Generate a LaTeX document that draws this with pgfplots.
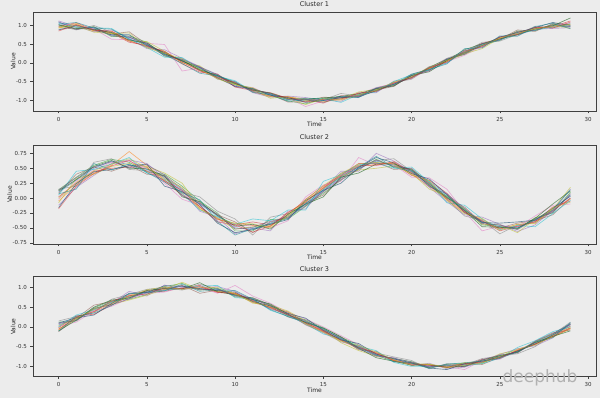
\documentclass[border=0pt]{standalone}
\usepackage{pgfplots}
\usepackage{pgfplotstable}
\pgfplotsset{compat=1.18}
\usepackage{fontspec}
\setmainfont{DejaVu Sans}
\definecolor{bg}{RGB}{236,236,236}
\definecolor{c1}{HTML}{1F77B4}
\definecolor{c2}{HTML}{FF7F0E}
\definecolor{c3}{HTML}{2CA02C}
\definecolor{c4}{HTML}{D62728}
\definecolor{c5}{HTML}{9467BD}
\definecolor{c6}{HTML}{8C564B}
\definecolor{c7}{HTML}{E377C2}
\definecolor{c8}{HTML}{7F7F7F}
\definecolor{c9}{HTML}{BCBD22}
\definecolor{c10}{HTML}{17BECF}

\pgfplotstableread{
t a b c d e f g h i j k l m n o p
0 1.08 0.93 1.02 0.97 1.12 0.90 1.04 0.99 0.95 1.06 0.88 1.01 0.85 1.10 0.94 1.03
1 0.95 1.03 0.90 1.07 0.98 0.93 1.01 0.88 1.05 0.96 1.00 0.92 1.02 0.89 0.99 1.08
2 0.93 0.85 0.97 0.89 0.83 0.95 0.91 1.00 0.86 0.94 0.88 0.90 0.87 0.96 0.82 0.93
3 0.74 0.84 0.70 0.80 0.88 0.77 0.63 0.82 0.79 0.92 0.75 0.81 0.85 0.72 0.78 0.90
4 0.68 0.60 0.72 0.55 0.66 0.83 0.62 0.70 0.58 0.64 0.75 0.61 0.58 0.69 0.80 0.63
5 0.50 0.42 0.55 0.47 0.38 0.49 0.52 0.44 0.57 0.41 0.46 0.53 0.44 0.52 0.40 0.49
6 0.22 0.30 0.18 0.27 0.35 0.25 0.49 0.21 0.31 0.15 0.28 0.24 0.31 0.19 0.26 0.22
7 0.10 0.02 0.07 -0.03 0.12 0.05 -0.22 0.08 0.00 0.14 0.04 0.06 0.01 0.09 0.11 -0.02
8 -0.12 -0.20 -0.15 -0.25 -0.10 -0.18 -0.14 -0.22 -0.08 -0.17 -0.13 -0.19 -0.21 -0.11 -0.17 -0.28
9 -0.33 -0.41 -0.37 -0.30 -0.44 -0.35 -0.39 -0.32 -0.42 -0.36 -0.40 -0.34 -0.38 -0.31 -0.43 -0.35
10 -0.60 -0.52 -0.57 -0.65 -0.50 -0.56 -0.62 -0.54 -0.58 -0.48 -0.63 -0.55 -0.53 -0.64 -0.59 -0.51
11 -0.70 -0.78 -0.68 -0.74 -0.80 -0.72 -0.66 -0.75 -0.71 -0.77 -0.69 -0.73 -0.76 -0.71 -0.67 -0.79
12 -0.83 -0.90 -0.86 -0.80 -0.92 -0.85 -0.88 -0.82 -0.95 -0.84 -0.87 -0.81 -0.89 -0.83 -0.91 -0.86
13 -0.98 -0.92 -1.02 -0.95 -0.89 -1.05 -0.94 -0.97 -0.90 -1.00 -0.93 -0.96 -0.91 -0.99 -0.95 -1.03
14 -1.02 -0.96 -1.10 -0.99 -0.93 -1.04 -1.17 -0.98 -1.01 -0.95 -1.06 -0.97 -1.05 -0.97 -1.12 -0.99
15 -0.97 -1.03 -0.95 -1.08 -1.00 -0.92 -1.02 -0.99 -1.05 -0.96 -1.01 -0.94 -0.98 -1.06 -0.96 -1.01
16 -0.91 -0.99 -0.95 -0.88 -1.03 -0.94 -0.97 -0.82 -0.96 -1.06 -0.93 -0.90 -0.97 -0.92 -1.00 -0.89
17 -0.88 -0.82 -0.86 -0.91 -0.80 -0.87 -0.84 -0.89 -0.78 -0.85 -0.92 -0.83 -0.81 -0.90 -0.86 -0.93
18 -0.70 -0.76 -0.72 -0.68 -0.80 -0.73 -0.66 -0.75 -0.71 -0.78 -0.74 -0.69 -0.77 -0.69 -0.74 -0.67
19 -0.58 -0.52 -0.60 -0.55 -0.49 -0.63 -0.56 -0.53 -0.59 -0.50 -0.57 -0.62 -0.54 -0.61 -0.51 -0.58
20 -0.35 -0.40 -0.33 -0.38 -0.42 -0.31 -0.37 -0.44 -0.36 -0.32 -0.39 -0.34 -0.41 -0.34 -0.38 -0.30
21 -0.18 -0.13 -0.20 -0.15 -0.10 -0.17 -0.22 -0.14 -0.16 -0.19 -0.12 -0.24 -0.14 -0.21 -0.11 -0.18
22 0.08 0.02 0.10 0.05 -0.01 0.07 0.03 0.12 0.04 0.00 0.09 0.06 0.02 0.11 0.07 -0.03
23 0.25 0.30 0.22 0.28 0.33 0.26 0.20 0.29 0.24 0.31 0.27 0.35 0.32 0.23 0.27 0.38
24 0.50 0.44 0.48 0.52 0.41 0.47 0.45 0.55 0.38 0.49 0.46 0.51 0.43 0.51 0.47 0.40
25 0.62 0.68 0.60 0.65 0.70 0.63 0.67 0.58 0.66 0.61 0.69 0.64 0.69 0.61 0.66 0.72
26 0.82 0.77 0.85 0.79 0.74 0.88 0.80 0.76 0.83 0.78 0.81 0.75 0.76 0.84 0.79 0.71
27 0.88 0.93 0.86 0.95 0.90 0.84 0.92 0.98 0.89 0.87 0.94 0.91 0.95 0.87 0.91 0.97
28 1.00 0.95 1.03 0.97 0.92 1.05 0.98 0.94 1.01 0.96 1.08 0.99 0.93 1.02 0.98 1.06
29 0.96 1.04 0.98 1.12 0.94 1.02 1.07 0.99 0.92 1.05 1.00 1.20 1.09 0.97 1.03 0.91
}\clusterA

\pgfplotstableread{
t a b c d e f g h i j k l m n o p
0 0.10 -0.05 0.14 0.02 -0.12 0.08 -0.02 0.15 -0.08 0.05 -0.16 0.12 -0.18 0.13 0.00 0.07
1 0.30 0.22 0.35 0.25 0.18 0.40 0.28 0.20 0.33 0.45 0.24 0.31 0.20 0.34 0.26 0.15
2 0.50 0.42 0.55 0.45 0.38 0.52 0.47 0.60 0.40 0.48 0.44 0.53 0.41 0.52 0.46 0.58
3 0.62 0.55 0.65 0.50 0.58 0.45 0.60 0.66 0.53 0.57 0.48 0.63 0.54 0.61 0.57 0.47
4 0.56 0.78 0.60 0.52 0.64 0.55 0.62 0.48 0.58 0.68 0.54 0.50 0.63 0.51 0.66 0.57
5 0.48 0.55 0.44 0.52 0.58 0.40 0.50 0.46 0.53 0.42 0.57 0.49 0.45 0.56 0.51 0.43
6 0.36 0.30 0.40 0.28 0.33 0.38 0.25 0.35 0.42 0.31 0.20 0.37 0.29 0.39 0.32 0.27
7 0.14 0.08 0.20 0.05 0.12 0.16 -0.02 0.10 0.25 0.07 0.11 0.02 0.13 0.04 0.18 0.09
8 -0.10 -0.18 -0.05 -0.14 -0.22 -0.08 -0.12 0.02 -0.16 -0.20 -0.11 -0.06 -0.15 -0.09 -0.19 -0.03
9 -0.30 -0.36 -0.25 -0.40 -0.32 -0.28 -0.38 -0.22 -0.34 -0.31 -0.42 -0.29 -0.35 -0.27 -0.33 -0.39
10 -0.50 -0.42 -0.55 -0.45 -0.60 -0.40 -0.48 -0.35 -0.52 -0.44 -0.58 -0.47 -0.45 -0.52 -0.43 -0.62
11 -0.52 -0.46 -0.55 -0.40 -0.50 -0.58 -0.45 -0.62 -0.48 -0.35 -0.53 -0.44 -0.57 -0.49 -0.43 -0.51
12 -0.42 -0.48 -0.36 -0.45 -0.55 -0.40 -0.50 -0.32 -0.46 -0.38 -0.44 -0.52 -0.47 -0.39 -0.50 -0.43
13 -0.30 -0.25 -0.35 -0.28 -0.22 -0.33 -0.38 -0.26 -0.31 -0.20 -0.36 -0.27 -0.24 -0.32 -0.29 -0.34
14 -0.10 -0.05 -0.14 -0.02 -0.18 -0.08 0.02 -0.12 -0.06 -0.20 -0.04 -0.10 -0.07 -0.13 -0.03 -0.09
15 0.12 0.18 0.08 0.20 0.15 0.05 0.22 0.10 0.16 0.28 0.13 0.02 0.17 0.11 0.21 0.14
16 0.34 0.40 0.30 0.38 0.45 0.33 0.28 0.42 0.36 0.39 0.25 0.35 0.37 0.31 0.41 0.36
17 0.50 0.55 0.48 0.58 0.45 0.53 0.68 0.52 0.47 0.56 0.51 0.42 0.54 0.49 0.57 0.52
18 0.62 0.56 0.65 0.58 0.75 0.60 0.55 0.63 0.50 0.59 0.68 0.57 0.55 0.64 0.60 0.70
19 0.55 0.60 0.52 0.58 0.62 0.48 0.56 0.66 0.54 0.50 0.59 0.57 0.61 0.53 0.57 0.51
20 0.46 0.40 0.48 0.38 0.44 0.50 0.35 0.45 0.42 0.52 0.41 0.47 0.43 0.49 0.39 0.45
21 0.28 0.20 0.26 0.30 0.18 0.24 0.34 0.22 0.15 0.27 0.32 0.21 0.25 0.19 0.29 0.23
22 0.05 -0.03 0.02 0.08 -0.06 0.00 0.15 -0.02 0.04 -0.08 0.06 0.01 -0.01 0.07 -0.04 0.03
23 -0.20 -0.25 -0.18 -0.22 -0.28 -0.15 -0.23 -0.30 -0.19 -0.12 -0.24 -0.21 -0.23 -0.17 -0.26 -0.20
24 -0.40 -0.36 -0.45 -0.38 -0.32 -0.42 -0.55 -0.37 -0.44 -0.35 -0.41 -0.48 -0.39 -0.43 -0.34 -0.40
25 -0.46 -0.52 -0.48 -0.55 -0.44 -0.50 -0.47 -0.60 -0.45 -0.53 -0.42 -0.49 -0.51 -0.45 -0.54 -0.48
26 -0.50 -0.44 -0.52 -0.47 -0.56 -0.42 -0.49 -0.45 -0.58 -0.46 -0.40 -0.51 -0.48 -0.53 -0.44 -0.50
27 -0.36 -0.42 -0.33 -0.40 -0.45 -0.38 -0.30 -0.41 -0.35 -0.48 -0.37 -0.34 -0.39 -0.35 -0.43 -0.37
28 -0.22 -0.18 -0.25 -0.15 -0.20 -0.28 -0.12 -0.23 -0.19 -0.26 -0.17 -0.10 -0.21 -0.24 -0.16 -0.20
29 0.05 -0.02 0.10 -0.05 0.15 0.00 -0.10 0.08 0.18 -0.04 0.03 0.12 0.00 0.06 -0.07 0.14
}\clusterB

\pgfplotstableread{
t a b c d e f g h i j k l m n o p
0 0.05 -0.08 0.12 -0.02 0.08 -0.12 0.02 0.15 -0.05 0.00 0.10 -0.10 -0.06 0.09 0.03 -0.11
1 0.20 0.25 0.15 0.28 0.18 0.22 0.12 0.26 0.19 0.30 0.23 0.17 0.24 0.16 0.21 0.27
2 0.45 0.38 0.48 0.32 0.42 0.55 0.40 0.36 0.46 0.43 0.30 0.50 0.39 0.47 0.44 0.35
3 0.62 0.58 0.66 0.55 0.60 0.64 0.52 0.70 0.57 0.63 0.59 0.68 0.65 0.56 0.61 0.54
4 0.74 0.80 0.70 0.78 0.90 0.75 0.72 0.82 0.68 0.77 0.85 0.73 0.79 0.71 0.76 0.84
5 0.86 0.91 0.82 0.88 0.78 0.93 0.85 0.95 0.80 0.89 0.87 0.92 0.83 0.90 0.94 0.86
6 0.98 0.94 1.02 0.90 1.06 0.96 0.88 1.00 0.95 0.92 1.04 0.97 0.99 0.93 1.01 0.91
7 1.02 0.97 1.10 0.99 0.95 1.05 1.00 0.93 1.13 0.98 1.03 0.96 0.97 1.04 0.95 1.08
8 0.96 1.01 0.93 1.05 0.98 0.85 1.00 1.08 0.95 1.03 0.97 1.12 1.02 0.94 0.99 0.90
9 0.95 0.90 0.98 0.88 1.02 0.93 0.85 0.97 0.91 1.05 0.92 0.89 0.87 0.96 1.00 0.94
10 0.80 0.86 0.76 0.84 0.90 0.82 1.05 0.78 0.85 0.74 0.88 0.81 0.85 0.79 0.83 0.92
11 0.70 0.65 0.74 0.62 0.68 0.72 0.78 0.66 0.60 0.71 0.64 0.69 0.67 0.73 0.63 0.70
12 0.54 0.48 0.56 0.50 0.45 0.52 0.60 0.47 0.55 0.42 0.53 0.58 0.49 0.55 0.51 0.44
13 0.35 0.30 0.28 0.38 0.33 0.25 0.36 0.31 0.40 0.27 0.34 0.32 0.32 0.29 0.37 0.26
14 0.14 0.08 0.18 0.10 0.05 0.12 0.20 0.06 0.15 0.09 0.22 0.11 0.10 0.16 0.07 0.13
15 -0.05 -0.12 -0.02 -0.10 -0.15 -0.08 0.00 -0.13 -0.06 -0.18 -0.09 -0.03 -0.11 -0.07 -0.14 -0.04
16 -0.30 -0.35 -0.26 -0.32 -0.38 -0.28 -0.22 -0.34 -0.40 -0.29 -0.33 -0.25 -0.33 -0.27 -0.36 -0.31
17 -0.50 -0.55 -0.46 -0.52 -0.48 -0.58 -0.45 -0.53 -0.60 -0.49 -0.42 -0.54 -0.51 -0.56 -0.47 -0.53
18 -0.70 -0.65 -0.72 -0.68 -0.75 -0.62 -0.70 -0.66 -0.74 -0.60 -0.69 -0.78 -0.67 -0.73 -0.64 -0.71
19 -0.82 -0.86 -0.80 -0.84 -0.78 -0.88 -0.83 -0.76 -0.85 -0.90 -0.81 -0.87 -0.85 -0.79 -0.83 -0.88
20 -0.92 -0.96 -0.88 -0.94 -0.98 -0.90 -0.95 -0.85 -0.93 -1.00 -0.91 -0.97 -0.94 -0.89 -0.97 -0.92
21 -1.00 -0.95 -1.03 -0.97 -0.92 -1.02 -0.98 -1.06 -0.94 -0.99 -1.04 -0.96 -0.97 -1.01 -0.95 -1.05
22 -0.98 -1.03 -0.95 -1.01 -1.06 -0.97 -1.00 -0.93 -1.04 -0.99 -1.08 -1.02 -1.02 -0.96 -1.00 -0.94
23 -0.95 -0.99 -0.92 -0.97 -1.02 -0.94 -1.08 -0.96 -0.90 -0.98 -0.93 -1.00 -0.93 -1.01 -0.97 -0.91
24 -0.90 -0.86 -0.92 -0.82 -0.88 -0.95 -0.85 -0.80 -0.89 -0.93 -0.87 -0.84 -0.89 -0.83 -0.91 -0.86
25 -0.75 -0.80 -0.72 -0.78 -0.70 -0.77 -0.82 -0.74 -0.68 -0.79 -0.76 -0.73 -0.78 -0.71 -0.75 -0.80
26 -0.62 -0.58 -0.65 -0.60 -0.55 -0.63 -0.57 -0.68 -0.59 -0.52 -0.61 -0.64 -0.60 -0.66 -0.56 -0.62
27 -0.40 -0.45 -0.38 -0.43 -0.48 -0.36 -0.42 -0.50 -0.41 -0.35 -0.44 -0.39 -0.43 -0.37 -0.46 -0.40
28 -0.20 -0.25 -0.18 -0.22 -0.28 -0.15 -0.23 -0.19 -0.26 -0.12 -0.21 -0.24 -0.24 -0.17 -0.22 -0.27
29 0.02 -0.05 0.08 -0.02 0.10 -0.08 0.04 0.12 -0.04 0.00 0.06 -0.10 -0.03 0.07 0.01 0.11
}\clusterC

\pgfplotsset{
  clusterstyle/.style={
    scale only axis, width=563pt, height=99pt, anchor=south west,
    axis background/.style={fill=bg},
    axis line style={black!75, line width=0.6pt},
    xmin=-1.45, xmax=30.45, xtick={0,5,...,30},
    tick align=outside, major tick length=2.5pt,
    tick style={black!75, line width=0.5pt},
    xtick pos=bottom, ytick pos=left,
    every tick label/.append style={font=\fontsize{5.5}{6}\selectfont, text=black!80},
    /pgf/number format/assume math mode=true,
    label style={font=\fontsize{6}{7}\selectfont, text=black!85},
    title style={font=\fontsize{6.5}{7.5}\selectfont, text=black!85, yshift=-4pt},
    xlabel={Time}, ylabel={Value},
    xlabel style={yshift=6pt},
    ylabel style={yshift=-6pt},
    y tick label style={/pgf/number format/.cd, fixed, fixed zerofill, precision=1},
    cycle list={
      {c1,opacity=0.55},{c2,opacity=0.55},{c3,opacity=0.55},{c4,opacity=0.55},
      {c5,opacity=0.55},{c6,opacity=0.55},{c7,opacity=0.55},{c8,opacity=0.55},
      {c9,opacity=0.55},{c10,opacity=0.55},{c1!60!black,opacity=0.6},{c3!60!black,opacity=0.6},
      {c4,opacity=0.5},{c5!70!black,opacity=0.55},{c9,opacity=0.5},{c10!70!black,opacity=0.55}},
  }
}

\begin{document}
\begin{tikzpicture}[x=1pt,y=1pt]
\fill[bg] (0,0) rectangle (600,398);
\useasboundingbox (0,0) rectangle (600,398);

\begin{axis}[clusterstyle, at={(33pt,287pt)}, title={Cluster 1},
  ymin=-1.29, ymax=1.36, ytick={-1,-0.5,0,0.5,1}]
\pgfplotsinvokeforeach{1,...,16}{
  \addplot+[no markers, line width=0.65pt] table[x index=0, y index=#1] {\clusterA};
}
\end{axis}

\begin{axis}[clusterstyle, at={(33pt,154pt)}, title={Cluster 2},
  ymin=-0.77, ymax=0.89, ytick={-0.75,-0.5,-0.25,0,0.25,0.5,0.75},
  y tick label style={/pgf/number format/.cd, fixed, fixed zerofill, precision=2}]
\pgfplotsinvokeforeach{1,...,16}{
  \addplot+[no markers, line width=0.65pt] table[x index=0, y index=#1] {\clusterB};
}
\end{axis}

\begin{axis}[clusterstyle, at={(33pt,21.3pt)}, height=100pt, title={Cluster 3},
  ymin=-1.26, ymax=1.27, ytick={-1,-0.5,0,0.5,1}]
\pgfplotsinvokeforeach{1,...,16}{
  \addplot+[no markers, line width=0.65pt] table[x index=0, y index=#1] {\clusterC};
}
\end{axis}

\node[anchor=center, inner sep=0pt, text=black!30, font=\fontsize{17}{18}\selectfont] at (540,20) {deephub};
\end{tikzpicture}
\end{document}
